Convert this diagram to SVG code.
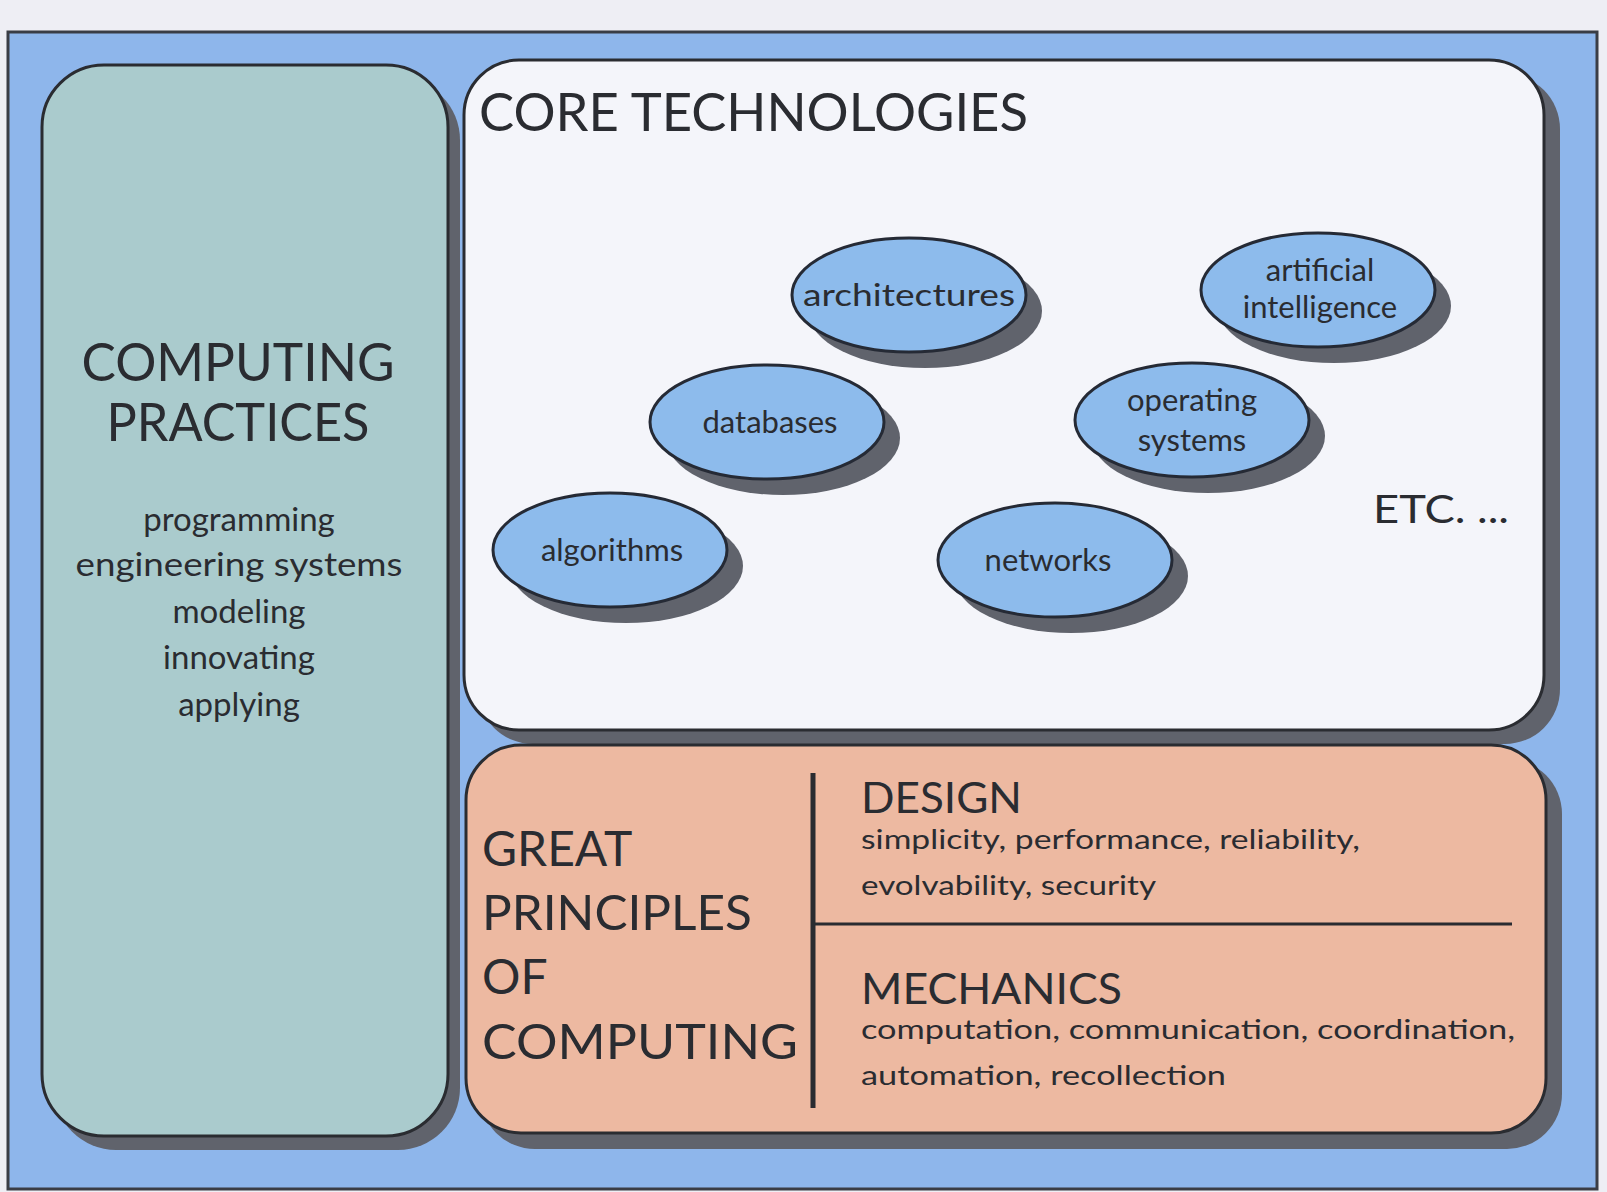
<svg xmlns="http://www.w3.org/2000/svg" width="1607" height="1192" viewBox="0 0 1607 1192">
<style>
.t{font-family:Lato,"Open Sans","Liberation Sans",sans-serif;fill:#2a2c31}
.sh{fill:#60636c}
.pan{stroke:#2a2c31;stroke-width:3}
.ell{fill:#8dbbec;stroke:#252a35;stroke-width:3}
.el{font-size:31px;text-anchor:middle}
</style>
<rect x="0" y="0" width="1607" height="1192" fill="#eeeef4"/>
<rect id="frame" x="8" y="32" width="1589" height="1157" fill="#8eb6eb" stroke="#3a3d45" stroke-width="3"/>

<g id="practices">
<rect class="sh" x="54" y="78" width="406" height="1072" rx="62"/>
<rect class="pan" x="42" y="65" width="406" height="1071" rx="62" fill="#aacbcd"/>
<text class="t" x="238" y="381" font-size="52" text-anchor="middle" textLength="313" lengthAdjust="spacingAndGlyphs">COMPUTING</text>
<text class="t" x="238" y="441" font-size="52" text-anchor="middle" textLength="263" lengthAdjust="spacingAndGlyphs">PRACTICES</text>
<text class="t" x="239" y="531" font-size="33" text-anchor="middle">programming</text>
<text class="t" x="239" y="576" font-size="33" text-anchor="middle" textLength="327" lengthAdjust="spacingAndGlyphs">engineering systems</text>
<text class="t" x="239" y="623" font-size="33" text-anchor="middle">modeling</text>
<text class="t" x="239" y="669" font-size="33" text-anchor="middle">innovating</text>
<text class="t" x="239" y="716" font-size="33" text-anchor="middle">applying</text>
</g>

<g id="core">
<rect class="sh" x="478" y="74" width="1082" height="670" rx="55"/>
<rect class="pan" x="464" y="60" width="1080" height="670" rx="55" fill="#f4f5fa"/>
<text class="t" x="479" y="131" font-size="52" textLength="549" lengthAdjust="spacingAndGlyphs">CORE TECHNOLOGIES</text>
<text class="t" x="1373" y="523" font-size="38" textLength="136" lengthAdjust="spacingAndGlyphs">ETC. ...</text>
</g>

<g id="architectures">
<ellipse class="sh" cx="925" cy="311" rx="117" ry="57"/>
<ellipse class="ell" cx="909" cy="295" rx="117" ry="57"/>
<text class="t el" x="909" y="306" textLength="212" lengthAdjust="spacingAndGlyphs">architectures</text>
</g>
<g id="ai">
<ellipse class="sh" cx="1334" cy="306" rx="117" ry="57"/>
<ellipse class="ell" cx="1318" cy="290" rx="117" ry="57"/>
<text class="t el" x="1320" y="281">artificial</text>
<text class="t el" x="1320" y="318">intelligence</text>
</g>
<g id="databases">
<ellipse class="sh" cx="783" cy="438" rx="117" ry="57"/>
<ellipse class="ell" cx="767" cy="422" rx="117" ry="57"/>
<text class="t el" x="770" y="433">databases</text>
</g>
<g id="os">
<ellipse class="sh" cx="1208" cy="436" rx="117" ry="57"/>
<ellipse class="ell" cx="1192" cy="420" rx="117" ry="57"/>
<text class="t el" x="1192" y="411">operating</text>
<text class="t el" x="1192" y="451">systems</text>
</g>
<g id="algorithms">
<ellipse class="sh" cx="626" cy="566" rx="117" ry="57"/>
<ellipse class="ell" cx="610" cy="550" rx="117" ry="57"/>
<text class="t el" x="612" y="561">algorithms</text>
</g>
<g id="networks">
<ellipse class="sh" cx="1071" cy="576" rx="117" ry="57"/>
<ellipse class="ell" cx="1055" cy="560" rx="117" ry="57"/>
<text class="t el" x="1048" y="571">networks</text>
</g>

<g id="principles">
<rect class="sh" x="480" y="759" width="1082" height="390" rx="55"/>
<rect class="pan" x="466" y="745" width="1080" height="388" rx="55" fill="#edb9a1"/>
<text class="t" x="482" y="866" font-size="48">GREAT</text>
<text class="t" x="482" y="930" font-size="48" textLength="270" lengthAdjust="spacingAndGlyphs">PRINCIPLES</text>
<text class="t" x="482" y="994" font-size="48">OF</text>
<text class="t" x="482" y="1059" font-size="48" textLength="316" lengthAdjust="spacingAndGlyphs">COMPUTING</text>
<text class="t" x="861" y="813" font-size="42" textLength="161" lengthAdjust="spacingAndGlyphs">DESIGN</text>
<text class="t" x="861" y="849" font-size="27" textLength="499" lengthAdjust="spacingAndGlyphs">simplicity, performance, reliability,</text>
<text class="t" x="861" y="895" font-size="27" textLength="295" lengthAdjust="spacingAndGlyphs">evolvability, security</text>
<text class="t" x="861" y="1004" font-size="42" textLength="261" lengthAdjust="spacingAndGlyphs">MECHANICS</text>
<text class="t" x="861" y="1039" font-size="27" textLength="654" lengthAdjust="spacingAndGlyphs">computation, communication, coordination,</text>
<text class="t" x="861" y="1085" font-size="27" textLength="365" lengthAdjust="spacingAndGlyphs">automation, recollection</text>
</g>

<g id="connectors">
<line x1="813" y1="773" x2="813" y2="1108" stroke="#2a2c31" stroke-width="5"/>
<line x1="813" y1="924" x2="1512" y2="924" stroke="#2a2c31" stroke-width="3"/>
</g>
</svg>
